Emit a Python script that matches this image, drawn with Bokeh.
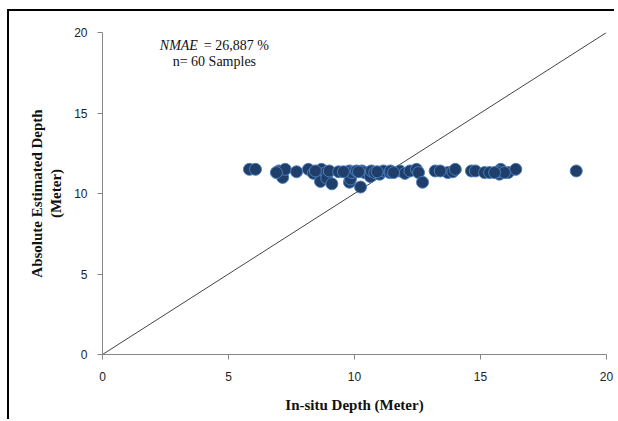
from bokeh.plotting import figure
from bokeh.models import Label, FixedTicker
from bokeh.embed import file_html
from bokeh.resources import INLINE

# In-situ depth (m) vs absolute estimated depth (m), 60 samples
insitu = [5.83, 6.07, 7.0, 7.1, 7.15, 7.25, 7.7, 8.17, 8.37, 8.65,
          8.69, 8.85, 8.9, 9.0, 9.1, 9.37, 9.8, 9.8, 9.84, 9.9,
          10.08, 10.24, 10.3, 10.4, 10.63, 10.67, 10.8, 11.0, 11.15, 11.4,
          11.43, 11.8, 12.0, 12.2, 12.46, 12.54, 12.7, 13.2, 13.7, 13.9,
          14.0, 14.64, 14.8, 15.16, 15.36, 15.75, 15.8, 15.7, 16.1, 16.4,
          18.8, 6.9, 8.45, 9.56, 10.16, 10.9, 11.55, 13.4, 15.95, 15.56]
estimated = [11.5, 11.5, 11.4, 11.2, 11.0, 11.5, 11.35, 11.5, 11.25, 10.75,
             11.5, 11.3, 10.95, 11.4, 10.6, 11.35, 11.4, 10.7, 10.9, 11.3,
             11.4, 10.4, 11.4, 11.3, 11.05, 11.4, 11.3, 11.2, 11.4, 11.3,
             11.4, 11.4, 11.25, 11.4, 11.5, 11.3, 10.7, 11.4, 11.3, 11.35,
             11.5, 11.4, 11.4, 11.3, 11.3, 11.2, 11.5, 11.35, 11.3, 11.5,
             11.4, 11.3, 11.4, 11.35, 11.35, 11.35, 11.3, 11.4, 11.3, 11.3]
line_x = [0, 20]
line_y = [0, 20]
ticks = [0, 5, 10, 15, 20]

p = figure(width=607, height=410, output_backend="svg", toolbar_location=None,
           x_range=(0, 20), y_range=(0, 20),
           min_border_left=93, min_border_right=10, min_border_top=21, min_border_bottom=67)
p.styles = {"margin-left": "7px", "margin-top": "9px",
            "border-left": "2px solid black", "border-top": "2px solid black"}
p.outline_line_color = None
p.xgrid.visible = False
p.ygrid.visible = False

p.line(line_x, line_y, line_color="#444444", line_width=1)
p.scatter(insitu, estimated, size=12, fill_color="#1F3E6A", line_color="#4A7EBB", line_width=1)

for ax in (p.xaxis[0], p.yaxis[0]):
    ax.ticker = FixedTicker(ticks=ticks)
    ax.minor_tick_line_color = None
    ax.axis_line_color = "#868686"
    ax.major_tick_line_color = "#868686"
    ax.major_tick_in = 0
    ax.major_tick_out = 5
    ax.major_label_text_font = "Liberation Sans"
    ax.major_label_text_font_size = "12px"
    ax.major_label_text_color = "#222222"
    ax.axis_label_text_font = "Liberation Serif"
    ax.axis_label_text_font_style = "bold"
    ax.axis_label_text_font_size = "15px"
    ax.axis_label_text_color = "#111111"

p.xaxis.major_label_standoff = 12
p.xaxis.axis_label = "In-situ Depth (Meter)"
p.xaxis.axis_label_standoff = 13
p.yaxis.major_label_standoff = 10
p.yaxis.axis_label = "Absolute Estimated Depth\n(Meter)"
p.yaxis.axis_label_standoff = 7

p.add_layout(Label(x=3.03, y=19.2, text="NMAE", text_font="Liberation Serif",
                   text_font_style="italic", text_font_size="14px",
                   text_align="center", text_baseline="middle", text_color="#111111"))
p.add_layout(Label(x=4.02, y=19.2, text="= 26,887 %", text_font="Liberation Serif",
                   text_font_size="14px", text_align="left", text_baseline="middle",
                   text_color="#111111"))
p.add_layout(Label(x=4.44, y=18.2, text="n= 60 Samples", text_font="Liberation Serif",
                   text_font_size="14px", text_align="center", text_baseline="middle",
                   text_color="#111111"))

open("out.html", "w").write(file_html(p, INLINE))
